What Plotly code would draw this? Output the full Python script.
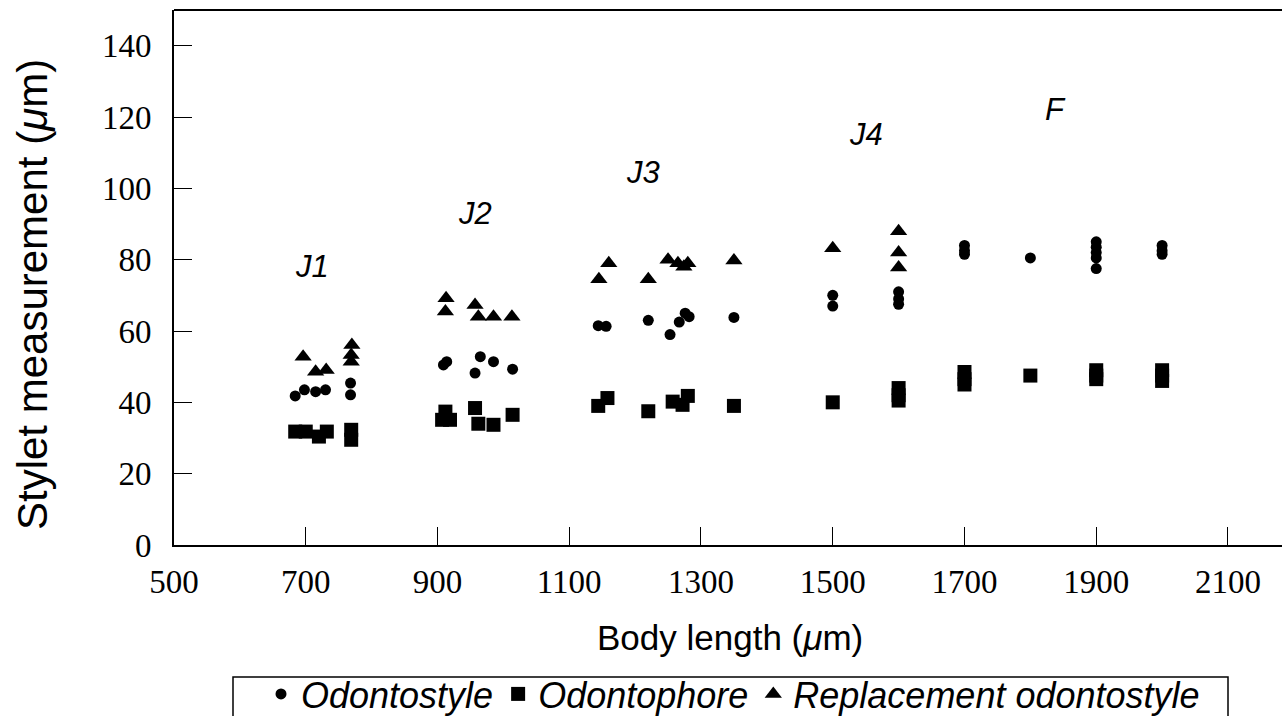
import plotly.graph_objects as go

# Odontostyle (circles)
odontostyle_x = [684, 698, 715, 730, 768, 768,
                 909, 914, 957, 965, 985, 1014,
                 1144, 1156, 1220, 1253, 1267, 1276, 1282, 1350,
                 1500, 1500, 1600, 1600, 1600,
                 1700, 1700, 1700, 1800, 1900, 1900, 1900, 1900, 1900, 2000, 2000, 2000]
odontostyle_y = [41.8, 43.5, 43.0, 43.5, 45.4, 42.1,
                 50.5, 51.4, 48.2, 52.8, 51.4, 49.3,
                 61.5, 61.3, 63.0, 59.0, 62.5, 65.0, 64.0, 63.8,
                 70.0, 67.0, 71.0, 69.0, 67.5,
                 84.0, 82.5, 81.5, 80.5, 85.0, 83.5, 82.0, 80.5, 77.5, 84.0, 82.5, 81.5]

# Odontophore (squares)
odontophore_x = [684, 700, 720, 732, 769, 769,
                 907, 912, 919, 957, 962, 985, 1014,
                 1144, 1158, 1220, 1257, 1272, 1280, 1350,
                 1500, 1600, 1600, 1600,
                 1700, 1700, 1700, 1800, 1900, 1900, 1900, 2000, 2000, 2000]
odontophore_y = [31.8, 31.8, 30.4, 31.8, 32.3, 29.5,
                 35.1, 37.4, 35.1, 38.4, 34.0, 33.7, 36.5,
                 39.0, 41.2, 37.5, 40.2, 39.3, 41.8, 39.0,
                 40.0, 44.0, 42.0, 40.5,
                 48.5, 46.5, 45.0, 47.5, 49.0, 47.5, 46.5, 49.0, 47.5, 46.0]

# Replacement odontostyle (triangles)
replacement_x = [696, 715, 731, 770, 769, 769,
                 913, 912, 957, 962, 985, 1013,
                 1145, 1160, 1220, 1250, 1265, 1274, 1280, 1350,
                 1500, 1600, 1600, 1600]
replacement_y = [52.8, 48.6, 49.1, 56.1, 53.3, 51.4,
                 69.2, 65.5, 67.3, 64.0, 64.0, 64.0,
                 74.5, 79.0, 74.5, 80.0, 79.0, 78.0, 79.0, 79.8,
                 83.2, 88.0, 82.0, 77.8]

# Stage labels
stage_labels = ["J1", "J2", "J3", "J4", "F"]
stage_x = [710, 957, 1212, 1551, 1838]
stage_y = [78, 93, 104.4, 115, 122]

x_ticks = [500, 700, 900, 1100, 1300, 1500, 1700, 1900, 2100]
y_ticks = [0, 20, 40, 60, 80, 100, 120, 140]

W, H = 1282, 716
ML, MR, MT, MB = 174, 0, 10, 171
PW, PH = W - ML - MR, H - MT - MB


def px_to_paper_x(px):
    return (px - ML) / PW


def px_to_paper_y(py):
    return (H - MB - py) / PH


fig = go.Figure()
fig.add_trace(go.Scatter(x=odontostyle_x, y=odontostyle_y, mode="markers",
                         name="Odontostyle",
                         marker=dict(symbol="circle", size=11, color="black")))
fig.add_trace(go.Scatter(x=odontophore_x, y=odontophore_y, mode="markers",
                         name="Odontophore",
                         marker=dict(symbol="square", size=14, color="black")))
fig.add_trace(go.Scatter(x=replacement_x, y=replacement_y, mode="markers",
                         name="Replacement odontostyle",
                         marker=dict(symbol="triangle-up", size=15, color="black")))

for t, xx, yy in zip(stage_labels, stage_x, stage_y):
    fig.add_annotation(x=xx, y=yy, text=t, showarrow=False,
                       font=dict(family="Liberation Sans", size=31, color="black", style="italic"))

# Axis titles
fig.add_annotation(xref="paper", yref="paper", x=px_to_paper_x(32), y=px_to_paper_y(295),
                   text="Stylet measurement (<i>μ</i>m)",
                   showarrow=False, textangle=-90, xanchor="center", yanchor="middle",
                   font=dict(family="Liberation Sans", size=42, color="black"))
fig.add_annotation(xref="paper", yref="paper", x=px_to_paper_x(730), y=px_to_paper_y(637),
                   text="Body length (<i>μ</i>m)",
                   showarrow=False, xanchor="center", yanchor="middle",
                   font=dict(family="Liberation Sans", size=35, color="black"))

# top border
fig.add_shape(type="line", xref="paper", yref="paper", x0=0, x1=1, y0=1, y1=1,
              line=dict(color="black", width=2))
# legend frame
fig.add_shape(type="rect", xref="paper", yref="paper",
              x0=px_to_paper_x(233), x1=px_to_paper_x(1228),
              y0=px_to_paper_y(730), y1=px_to_paper_y(677),
              line=dict(color="black", width=1.5), fillcolor="rgba(0,0,0,0)")

fig.update_layout(
    width=W, height=H,
    margin=dict(l=ML, r=MR, t=MT, b=MB, autoexpand=False),
    paper_bgcolor="white", plot_bgcolor="white",
    showlegend=True,
    legend=dict(orientation="h", x=px_to_paper_x(733), xanchor="center",
                y=px_to_paper_y(664), yanchor="top",
                borderwidth=0, bgcolor="rgba(0,0,0,0)",
                font=dict(family="Liberation Sans", size=36, color="black", style="italic"),
                itemsizing="trace", tracegroupgap=0, itemwidth=30),
)
fig.update_xaxes(range=[500, 2182], tickvals=x_ticks, ticktext=[str(v) for v in x_ticks],
                 ticks="inside", ticklen=18, tickwidth=1, tickcolor="black",
                 showline=True, linecolor="black", linewidth=2, showgrid=False, zeroline=False,
                 tickfont=dict(family="Liberation Serif", size=33, color="black"),
                 ticklabelstandoff=6)
fig.update_yaxes(range=[0, 150], tickvals=y_ticks, ticktext=[str(v) for v in y_ticks],
                 ticks="inside", ticklen=18, tickwidth=1, tickcolor="black",
                 showline=True, linecolor="black", linewidth=2, showgrid=False, zeroline=False,
                 tickfont=dict(family="Liberation Serif", size=33, color="black"),
                 ticklabelstandoff=14)

fig.write_html("out.html", config={"displayModeBar": False},
               post_script="document.body.style.margin='0';document.body.style.overflow='hidden';")
